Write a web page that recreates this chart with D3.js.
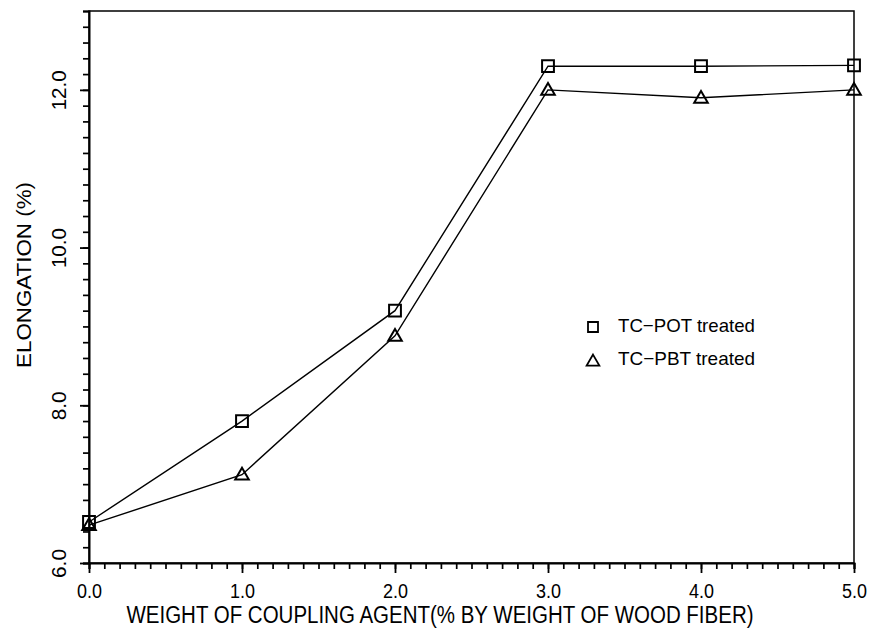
<!DOCTYPE html>
<html>
<head>
<meta charset="utf-8">
<script src="https://cdn.jsdelivr.net/npm/d3@7"></script>
<style>
  html, body { margin: 0; padding: 0; background: #fff; }
  svg { display: block; }
  text { font-family: "Liberation Sans Narrow", "Arial Narrow", "Liberation Sans", Arial, sans-serif; fill: #000; }
</style>
</head>
<body>
<svg id="chart" width="870" height="641"></svg>
<script>
// Coupling agent content (% by weight of wood fiber)
const agentLevels = [0, 1, 2, 3, 4, 5];
// Elongation (%) for each treatment
const potElongation = [6.52, 7.80, 9.20, 12.30, 12.30, 12.31];
const pbtElongation = [6.48, 7.12, 8.88, 12.00, 11.90, 12.00];
const seriesNames = ["TC\u2212POT treated", "TC\u2212PBT treated"];
const xTickValues = [0, 1, 2, 3, 4, 5];
const yTickValues = [6, 8, 10, 12];

const svg = d3.select("#chart");
const margin = { left: 89, right: 16, top: 11, bottom: 78 };
const W = 870, H = 641;

const x = d3.scaleLinear().domain([0, 5]).range([margin.left, W - margin.right]);
const y = d3.scaleLinear().domain([6, 13]).range([H - margin.bottom, margin.top]);

const axisStroke = 2;

// Frame around the plotting area
svg.append("rect")
  .attr("x", x(0)).attr("y", y(13))
  .attr("width", x(5) - x(0)).attr("height", y(6) - y(13))
  .attr("fill", "none").attr("stroke", "#000").attr("stroke-width", 1.5);

// X axis: minor ticks every 0.1, labelled majors every 1.0
const xAxis = svg.append("g").attr("transform", `translate(0,${y(6)})`);
xAxis.append("g")
  .call(d3.axisBottom(x).tickValues(d3.range(0, 50.5).map(d => d / 10)).tickSize(6).tickFormat(""))
  .call(g => g.select(".domain").attr("stroke", "#000").attr("stroke-width", axisStroke))
  .call(g => g.selectAll(".tick line").attr("stroke", "#000").attr("stroke-width", 1.7));
xAxis.append("g")
  .call(d3.axisBottom(x).tickValues(xTickValues).tickSize(10).tickFormat(d3.format(".1f")))
  .call(g => g.select(".domain").remove())
  .call(g => g.selectAll(".tick line").attr("stroke", "#000").attr("stroke-width", 1.8))
  .call(g => g.selectAll(".tick text")
    .attr("y", 21).attr("dy", "0.71em")
    .attr("textLength", 25).attr("lengthAdjust", "spacingAndGlyphs")
    .style("font-size", "20px").attr("fill", "#000"));

// Y axis: minor ticks every 0.2, labelled majors every 2.0 (labels turned sideways)
const yAxis = svg.append("g").attr("transform", `translate(${x(0)},0)`);
yAxis.append("g")
  .call(d3.axisLeft(y).tickValues(d3.range(30, 65.5).map(d => d / 5)).tickSize(6).tickFormat(""))
  .call(g => g.select(".domain").attr("stroke", "#000").attr("stroke-width", axisStroke))
  .call(g => g.selectAll(".tick line").attr("stroke", "#000").attr("stroke-width", 1.7));
yAxis.append("g")
  .call(d3.axisLeft(y).tickValues(yTickValues).tickSize(9).tickFormat(d3.format(".1f")))
  .call(g => g.select(".domain").remove())
  .call(g => g.selectAll(".tick line").attr("stroke", "#000").attr("stroke-width", 1.8))
  .call(g => g.selectAll(".tick text")
    .attr("x", null)
    .attr("text-anchor", "middle")
    .attr("transform", "translate(-30,0) rotate(-90)")
    .attr("dy", "0.35em")
    .attr("textLength", d => d >= 10 ? 40 : 29).attr("lengthAdjust", "spacingAndGlyphs")
    .style("font-size", "21px").attr("fill", "#000"));

// Axis titles
svg.append("text")
  .attr("x", 440).attr("y", 617)
  .attr("text-anchor", "middle")
  .attr("dominant-baseline", "middle")
  .attr("textLength", 627).attr("lengthAdjust", "spacingAndGlyphs")
  .style("font-size", "23px")
  .text("WEIGHT OF COUPLING AGENT(% BY WEIGHT OF WOOD FIBER)");

svg.append("text")
  .attr("transform", "translate(26,275) rotate(-90)")
  .attr("text-anchor", "middle")
  .attr("dominant-baseline", "middle")
  .attr("textLength", 186).attr("lengthAdjust", "spacingAndGlyphs")
  .style("font-size", "20px")
  .text("ELONGATION  (%)");

// Series lines and markers
const line = d3.line().x((d, i) => x(agentLevels[i])).y(d => y(d));
const plot = svg.append("g");

plot.append("path").datum(potElongation)
  .attr("d", line).attr("fill", "none").attr("stroke", "#000").attr("stroke-width", 1.4);
plot.append("path").datum(pbtElongation)
  .attr("d", line).attr("fill", "none").attr("stroke", "#000").attr("stroke-width", 1.4);

const squareSym = d3.symbol().type(d3.symbolSquare).size(140);
const triSym = d3.symbol().type(d3.symbolTriangle).size(80);

plot.selectAll(".pot").data(potElongation).join("path")
  .attr("class", "pot")
  .attr("d", squareSym)
  .attr("transform", (d, i) => `translate(${x(agentLevels[i])},${y(d)})`)
  .attr("fill", "none").attr("stroke", "#000").attr("stroke-width", 2);

plot.selectAll(".pbt").data(pbtElongation).join("path")
  .attr("class", "pbt")
  .attr("d", triSym)
  .attr("transform", (d, i) => `translate(${x(agentLevels[i])},${y(d) + 1})`)
  .attr("fill", "none").attr("stroke", "#000").attr("stroke-width", 2);

// Legend
const legend = svg.append("g").attr("transform", "translate(593,327)");
legend.append("path").attr("d", d3.symbol().type(d3.symbolSquare).size(100))
  .attr("fill", "none").attr("stroke", "#000").attr("stroke-width", 1.8);
legend.append("path").attr("d", d3.symbol().type(d3.symbolTriangle).size(70))
  .attr("transform", "translate(0,35)")
  .attr("fill", "none").attr("stroke", "#000").attr("stroke-width", 1.8);
legend.selectAll("text.lbl").data(seriesNames).join("text")
  .attr("class", "lbl")
  .attr("x", 25).attr("y", (d, i) => i * 33)
  .attr("dominant-baseline", "middle")
  .attr("textLength", 137).attr("lengthAdjust", "spacingAndGlyphs")
  .style("font-size", "19px")
  .text(d => d);
</script>
</body>
</html>
